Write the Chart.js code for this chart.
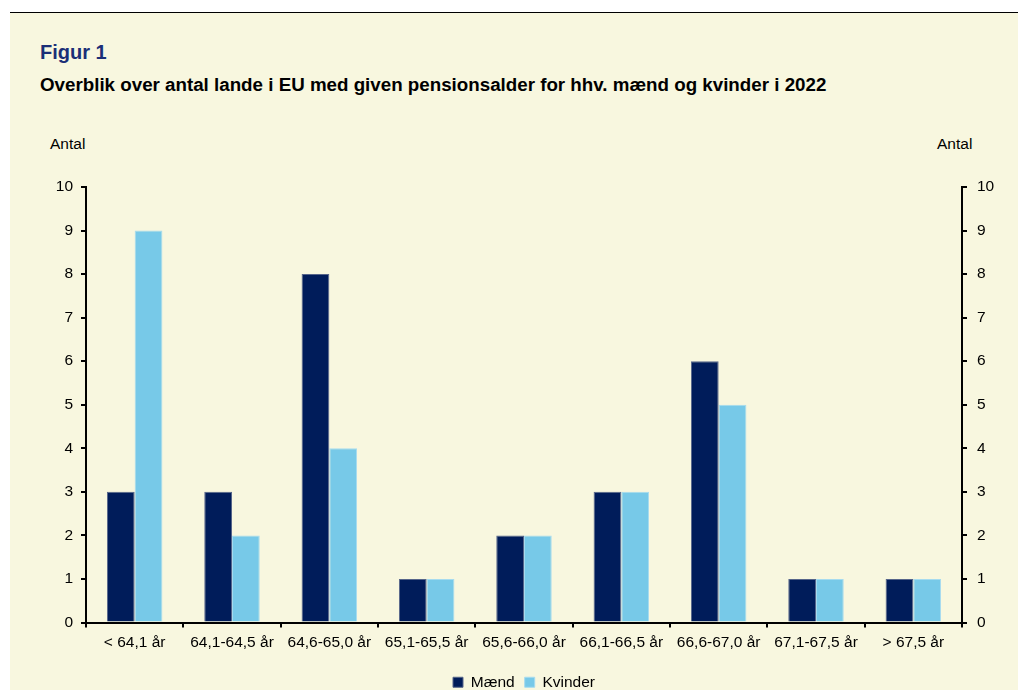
<!DOCTYPE html>
<html lang="da">
<head>
<meta charset="utf-8">
<title>Figur 1</title>
<script src="https://cdn.jsdelivr.net/npm/chart.js@4.4.1/dist/chart.umd.min.js"></script>
<style>
    html, body { margin: 0; padding: 0; background: #ffffff; }
    body { width: 1018px; height: 690px; position: relative; overflow: hidden; font-family: "Liberation Sans", Arial, sans-serif; }
    .topline { position: absolute; left: 10px; top: 12px; right: 0; height: 1px; background: #000; }
    .panel { position: absolute; left: 10px; top: 13px; right: 0; bottom: 0; background: #f8f7df; }
    .fig { position: absolute; left: 40px; top: 41px; font-size: 20px; font-weight: bold; color: #1b2f77; }
    .sub { position: absolute; left: 40px; top: 74px; font-size: 18.75px; font-weight: bold; color: #000; white-space: nowrap; }
    .unit { position: absolute; top: 135px; font-size: 15.5px; color: #000; }
    /* canvas a bit taller than the window, the bottom strip is cut off */
    #chartWrap { position: absolute; left: 0; top: 0; width: 1018px; height: 700px; }
</style>
</head>
<body>
<div class="topline"></div>
<div class="panel"></div>
<div class="fig">Figur 1</div>
<div class="sub">Overblik over antal lande i EU med given pensionsalder for hhv. mænd og kvinder i 2022</div>
<div class="unit" style="left:50px">Antal</div>
<div class="unit" style="left:937px">Antal</div>
<div id="chartWrap"><canvas id="pensionChart"></canvas></div>

<script>
// Data
const kategorier = ['< 64,1 år', '64,1-64,5 år', '64,6-65,0 år', '65,1-65,5 år', '65,6-66,0 år',
                    '66,1-66,5 år', '66,6-67,0 år', '67,1-67,5 år', '> 67,5 år'];
const maend = [3, 3, 8, 1, 2, 3, 6, 1, 1];
const kvinder = [9, 2, 4, 1, 2, 3, 5, 1, 1];
const yMin = 0;
const yMax = 10;
const yStep = 1;

const fontFam = '"Liberation Sans", Arial, sans-serif';
const tickFont = { family: fontFam, size: 15.5 };

const ctx = document.getElementById('pensionChart').getContext('2d');

new Chart(ctx, {
    type: 'bar',
    data: {
        labels: kategorier,
        datasets: [
            { label: 'Mænd', data: maend, backgroundColor: '#001c5a', borderColor: '#56658a', borderWidth: 1, yAxisID: 'y' },
            { label: 'Kvinder', data: kvinder, backgroundColor: '#77c9e8', borderColor: '#a6dbef', borderWidth: 1, yAxisID: 'y' }
        ]
    },
    options: {
        responsive: true,
        maintainAspectRatio: false,
        animation: false,
        datasets: { bar: { categoryPercentage: 0.57, barPercentage: 1.0 } },
        layout: { padding: { left: 0, right: 0, top: 187, bottom: 0 } },
        scales: {
            x: {
                grid: { offset: true, drawOnChartArea: false, drawTicks: true, tickLength: 5, color: '#000', lineWidth: 2 },
                border: { display: true, color: '#000', width: 2 },
                ticks: { color: '#000', padding: 6, maxRotation: 0, autoSkip: false, font: tickFont },
                afterFit: (s) => { s.height = 42; }
            },
            y: {
                position: 'left',
                min: yMin, max: yMax,
                grid: { drawOnChartArea: false, drawTicks: true, tickLength: 5, color: '#000', lineWidth: 2 },
                border: { display: true, color: '#000', width: 2 },
                ticks: { stepSize: yStep, color: '#000', padding: 8, font: tickFont },
                afterFit: (s) => { s.width = 86; }
            },
            y2: {
                position: 'right',
                min: yMin, max: yMax,
                grid: { drawOnChartArea: false, drawTicks: true, tickLength: 5, color: '#000', lineWidth: 2 },
                border: { display: true, color: '#000', width: 2 },
                ticks: { stepSize: yStep, color: '#000', padding: 10, font: tickFont },
                afterFit: (s) => { s.width = 56; }
            }
        },
        plugins: {
            legend: {
                position: 'bottom',
                fullSize: false,
                labels: {
                    color: '#000',
                    boxWidth: 10,
                    boxHeight: 10,
                    padding: 10,
                    font: tickFont
                }
            },
            tooltip: { enabled: false },
            title: { display: false }
        }
    }
});
</script>
</body>
</html>
